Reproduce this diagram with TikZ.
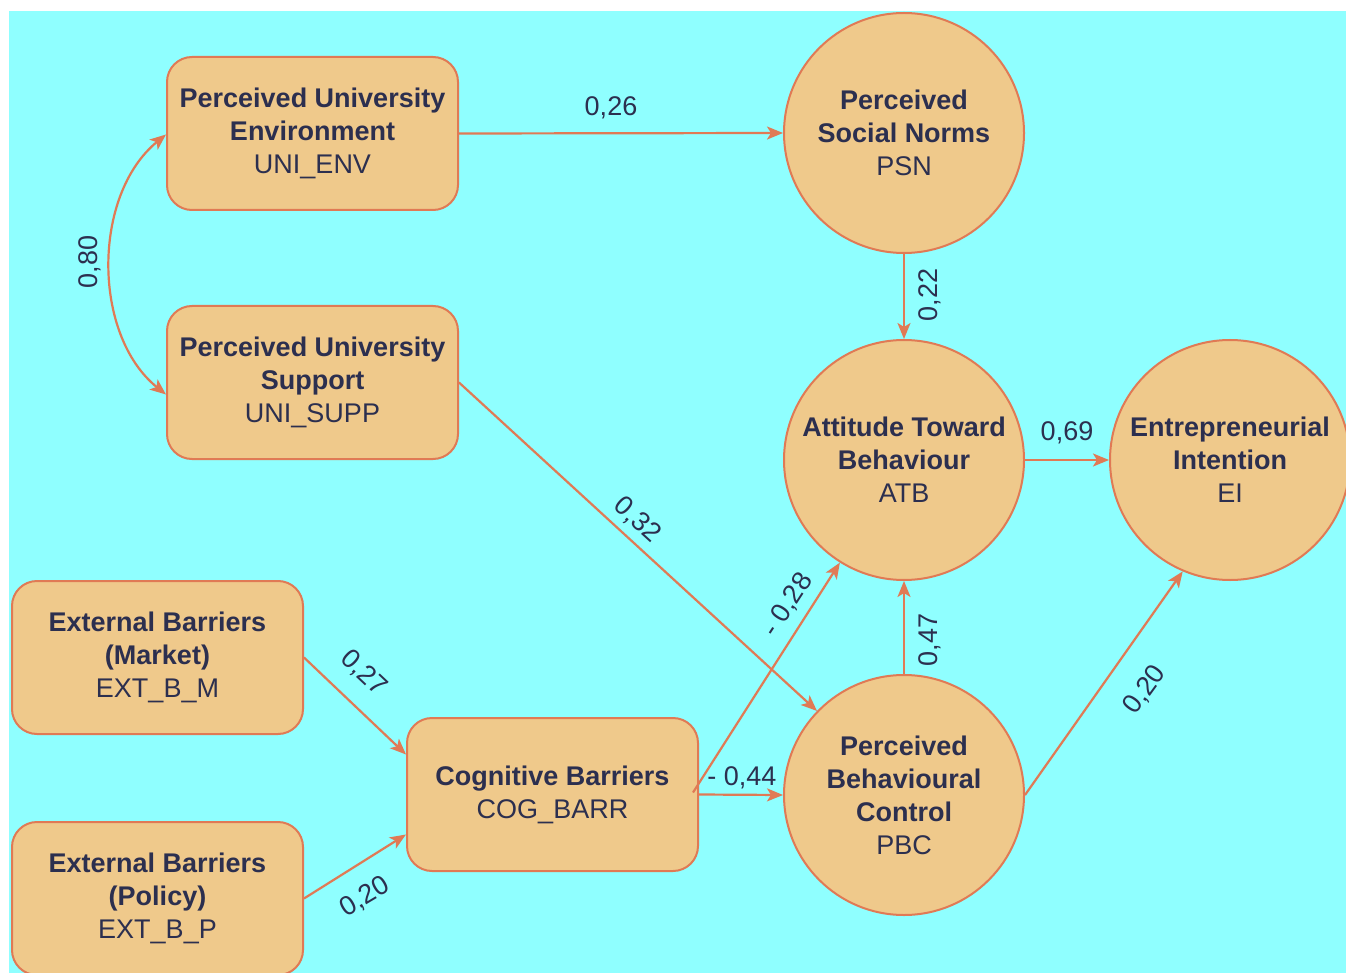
\documentclass[tikz,border=0pt]{standalone}
\usepackage{fontspec}
\setmainfont{Liberation Sans}
\usetikzlibrary{arrows.meta,calc}
\definecolor{bgc}{HTML}{8FFFFF}
\definecolor{nodefill}{HTML}{EFC98B}
\definecolor{edgec}{HTML}{E07A55}
\definecolor{txt}{HTML}{2C2F4F}
\tikzset{
  box/.style={draw=edgec, fill=nodefill, line width=2pt, rounded corners=25pt,
    minimum width=291pt, minimum height=153pt, align=center, text=txt,
    font=\fontsize{27}{33}\selectfont, inner sep=0pt},
  circ/.style={circle, draw=edgec, fill=nodefill, line width=2pt, minimum size=240pt,
    align=center, text=txt, font=\fontsize{27}{33}\selectfont, inner sep=0pt},
  conn/.style={draw=edgec, line width=2.2pt, -{Stealth[length=16pt,width=13pt,inset=4pt]}},
  biconn/.style={draw=edgec, line width=2.2pt, {Stealth[length=16pt,width=13pt,inset=4pt]}-{Stealth[length=16pt,width=13pt,inset=4pt]}},
  lab/.style={text=txt, font=\fontsize{27}{27}\selectfont, inner sep=0pt}
}
\begin{document}
\begin{tikzpicture}[x=1pt,y=-1pt]
\path[use as bounding box, fill=white] (0,0) rectangle (1346,973);
\fill[bgc] (9,11) rectangle (1346,973);

\node[box] (env) at (312.5,133.5) {\textbf{Perceived University}\\\textbf{Environment}\\UNI\_ENV};
\node[box] (supp) at (312.5,382.5) {\textbf{Perceived University}\\\textbf{Support}\\UNI\_SUPP};
\node[box] (extm) at (157.5,657.5) {\textbf{External Barriers}\\\textbf{(Market)}\\EXT\_B\_M};
\node[box] (extp) at (157.5,898.5) {\textbf{External Barriers}\\\textbf{(Policy)}\\EXT\_B\_P};
\node[box] (cog) at (552.5,794.5) {\textbf{Cognitive Barriers}\\COG\_BARR};

\node[circ] (psn) at (904,133) {\textbf{Perceived}\\\textbf{Social Norms}\\PSN};
\node[circ] (atb) at (904,460) {\textbf{Attitude Toward}\\\textbf{Behaviour}\\ATB};
\node[circ] (ei) at (1230,460) {\textbf{Entrepreneurial}\\\textbf{Intention}\\EI};
\node[circ] (pbc) at (904,795) {\textbf{Perceived}\\\textbf{Behavioural}\\\textbf{Control}\\PBC};

\draw[conn] (env.east) -- (psn.west);
\draw[conn] (psn.south) -- (atb.north);
\draw[conn] (atb.east) -- (ei.west);
\draw[conn] (pbc.north) -- (atb.south);
\draw[conn] (pbc.east) -- (ei.247);
\draw[conn] (supp.east) -- (pbc.136);
\draw[conn] ($(cog.east)+(-6,-2)$) -- (atb.238);
\draw[conn] (cog.east) -- (pbc.west);
\draw[conn] (extm.east) -- ($(cog.west)+(0,-40)$);
\draw[conn] (extp.east) -- ($(cog.west)+(0,40)$);
\draw[biconn] ($(env.west)+(0,1)$) .. controls (92,195) and (92,335) .. ($(supp.west)+(0,12)$);

\node[lab] (l26) at (611,108) {0,26};
\node[lab, rotate=90] (l22) at (930,295) {0,22};
\node[lab] (l69) at (1067,433) {0,69};
\node[lab, rotate=90] (l47) at (930,640) {0,47};
\node[lab, rotate=54] (l20a) at (1145,690) {0,20};
\node[lab, rotate=-42.4] (l32) at (637,520) {0,32};
\node[lab, rotate=57] (l28) at (788,605) {- 0,28};
\node[lab] (l44) at (742,778) {- 0,44};
\node[lab, rotate=-43.3] (l27) at (364,673) {0,27};
\node[lab, rotate=30.8] (l20b) at (365,897) {0,20};
\node[lab, rotate=90] (l80) at (90,262) {0,80};
\end{tikzpicture}
\end{document}
